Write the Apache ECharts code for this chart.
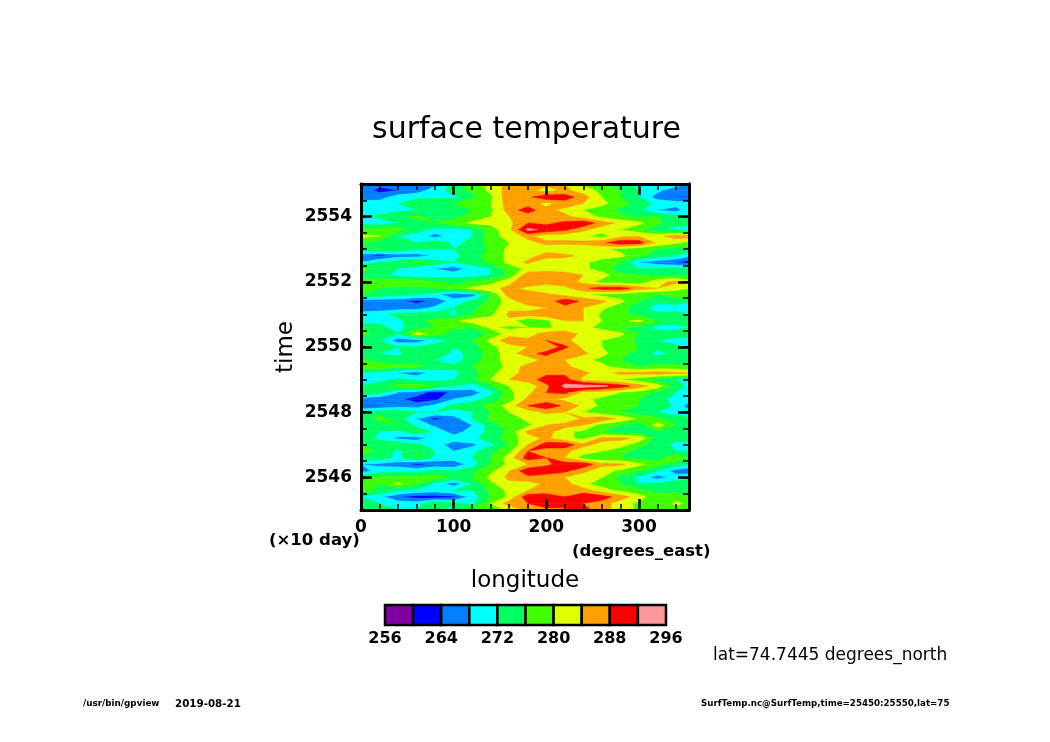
<!DOCTYPE html>
<html><head><meta charset="utf-8">
<style>html,body{margin:0;padding:0;background:#fff}#c{width:1050px;height:742px}</style>
<script src="https://cdn.jsdelivr.net/npm/echarts@6/dist/echarts.min.js"></script>
</head><body><div id="c"></div>
<script>
const lons = [0,20,40,60,80,100,120,140,160,180,200,220,240,260,280,300,320,340,354];
const timeTop = 2555, timeStep = 0.2;
const tempRows = [
[269,265,264,264,267,273,278,281,286,286,285,284,279,277,274,270,270,270,268],
[266,263,264,266,270,274,277,281,286,286,282,285,282,279,276,272,269,265,264],
[267,266,270,271,271,271,275,279,287,287,291,290,286,280,276,272,266,264,264],
[269,270,272,275,276,276,279,280,286,286,283,286,284,281,278,274,271,270,270],
[270,270,271,272,272,273,276,279,286,290,285,283,280,278,275,273,268,266,271],
[271,273,275,277,274,275,277,280,284,286,286,285,282,279,277,275,276,274,272],
[271,270,272,274,276,278,281,281,283,288,287,289,291,286,283,281,277,273,273],
[276,278,278,273,271,270,272,278,283,293,291,289,285,282,280,277,273,271,271],
[281,280,272,271,266,271,272,278,282,285,282,282,281,278,283,284,283,286,286],
[276,274,273,272,275,271,273,278,280,283,285,285,285,287,291,290,283,281,279],
[274,276,275,272,272,272,272,277,281,282,282,281,282,281,279,277,276,274,274],
[266,263,266,266,269,271,274,278,281,282,286,285,283,282,281,277,274,272,269],
[268,272,274,277,274,272,274,277,281,285,281,282,281,278,276,268,266,264,262],
[278,274,272,270,268,266,270,272,278,281,282,281,281,278,274,272,272,273,274],
[274,273,271,270,270,270,271,272,277,287,287,287,284,282,277,276,275,275,274],
[278,278,279,278,276,275,276,278,283,287,286,286,283,278,278,277,283,285,282],
[276,276,275,275,276,277,281,283,285,283,281,283,287,290,290,286,284,281,280],
[276,274,273,272,270,265,266,276,286,286,285,283,281,279,278,276,276,278,279],
[265,265,265,263,265,270,273,277,282,287,285,291,287,285,281,276,273,273,273],
[265,265,266,266,269,272,275,278,283,282,284,286,284,281,277,274,270,271,269],
[270,271,273,274,274,271,276,279,285,286,287,288,284,279,277,275,273,273,272],
[270,271,271,275,277,279,282,282,283,276,279,284,284,280,279,281,276,274,273],
[276,273,271,274,276,277,276,281,279,280,279,282,281,279,276,275,270,270,272],
[277,275,272,282,278,274,272,277,282,282,286,286,283,282,281,276,275,275,274],
[272,272,266,266,270,273,276,281,287,285,288,285,282,280,278,275,272,270,270],
[276,274,272,272,274,272,274,279,282,284,286,289,283,280,278,276,273,273,272],
[274,272,271,276,275,271,273,278,282,287,289,285,285,281,278,274,271,273,273],
[276,275,274,274,272,270,274,278,282,281,286,284,281,279,276,275,274,274,274],
[278,278,277,277,274,273,276,278,281,286,287,285,282,281,278,276,277,277,276],
[272,271,268,266,270,271,274,279,282,286,287,287,285,282,285,285,286,285,284],
[267,270,273,271,271,272,275,280,284,286,290,290,283,281,280,278,274,272,271],
[273,275,277,278,276,272,270,275,280,281,287,293,294,293,290,286,282,274,271],
[276,273,268,266,262,265,266,271,279,283,288,289,283,282,280,278,275,272,270],
[265,265,265,262,263,268,270,274,278,285,285,283,281,279,277,276,274,270,270],
[264,264,266,266,269,273,275,277,282,288,291,287,283,279,277,276,275,271,266],
[272,275,275,272,272,271,272,276,280,282,285,284,280,277,276,274,272,270,269],
[274,277,274,268,263,266,272,277,278,281,281,280,285,287,283,279,277,274,273],
[272,274,276,271,267,267,268,274,278,279,284,286,284,278,276,274,282,276,273],
[276,272,271,275,271,266,270,273,277,285,286,281,279,276,274,274,275,274,274],
[274,271,267,266,270,270,271,274,278,282,285,281,279,285,285,283,274,273,273],
[276,275,275,273,270,266,267,271,276,284,290,291,285,283,282,277,274,271,271],
[278,275,271,276,272,268,271,275,279,288,286,285,282,280,277,275,274,272,272],
[274,274,271,276,271,270,272,276,282,290,288,284,278,277,276,275,275,279,276],
[268,267,266,263,265,265,270,276,281,284,287,290,291,285,285,281,277,274,272],
[266,270,271,271,273,272,275,279,284,291,291,289,285,282,279,276,272,266,265],
[275,277,277,277,278,275,276,281,285,287,285,284,282,280,275,271,266,270,271],
[276,276,281,276,271,266,272,279,283,282,285,286,281,278,276,272,273,274,274],
[277,275,272,271,270,272,272,277,281,284,286,287,286,282,279,277,275,275,274],
[272,269,265,262,262,263,270,276,281,291,290,288,291,290,286,282,277,278,276],
[272,272,270,270,276,273,271,280,286,288,292,290,288,286,282,279,277,281,279],
[273,273,272,272,272,271,276,278,281,285,286,287,290,285,283,279,278,278,277]
];
const levels = [256,260,264,268,272,276,280,284,288,292,296];
const bandColors = ['#8000a0','#0000ff','#0080ff','#00ffff','#00ff60','#40ff00','#e0ff00','#ffa000','#ff0000','#ff9999'];
const yLabels = [2546,2548,2550,2552,2554];
const legendLabels = [256,264,272,280,288,296];
const FONT = 'DejaVu Sans';

const cells = [];
for (let r = 0; r < tempRows.length - 1; r++) {
  for (let c = 0; c < lons.length - 1; c++) {
    const t0 = timeTop - timeStep * r, t1 = timeTop - timeStep * (r + 1);
    cells.push([lons[c], t1, lons[c + 1], t0, tempRows[r + 1][c], tempRows[r + 1][c + 1], tempRows[r][c + 1], tempRows[r][c]]);
  }
}
function clip(poly, lv, keepAbove) {
  const out = [];
  for (let i = 0; i < poly.length; i++) {
    const a = poly[i], b = poly[(i + 1) % poly.length];
    const ain = keepAbove ? a[2] >= lv : a[2] <= lv;
    const bin = keepAbove ? b[2] >= lv : b[2] <= lv;
    if (ain) out.push(a);
    if (ain !== bin) {
      const f = (lv - a[2]) / (b[2] - a[2]);
      out.push([a[0] + f * (b[0] - a[0]), a[1] + f * (b[1] - a[1]), lv]);
    }
  }
  return out;
}
function renderCell(params, api) {
  const x0 = api.value(0), y0 = api.value(1), x1 = api.value(2), y1 = api.value(3);
  const p = [[x0, y0, 4], [x1, y0, 5], [x1, y1, 6], [x0, y1, 7]].map(d => {
    const q = api.coord([d[0], d[1]]);
    return [q[0], q[1], api.value(d[2])];
  });
  const children = [];
  for (let k = 0; k < bandColors.length; k++) {
    let poly = clip(p, levels[k], true);
    if (poly.length) poly = clip(poly, levels[k + 1], false);
    if (poly.length > 2) {
      children.push({type: 'polygon', silent: true,
        shape: {points: poly.map(v => [v[0], v[1]])},
        style: {fill: bandColors[k], stroke: bandColors[k], lineWidth: 0.5}});
    }
  }
  return {type: 'group', children};
}
const legendCells = bandColors.map((col, i) => [levels[i], levels[i + 1], i]);
function renderLegend(params, api) {
  const a = api.coord([api.value(0), 1]), b = api.coord([api.value(1), 0]);
  return {type: 'rect', shape: {x: a[0], y: a[1], width: b[0] - a[0], height: b[1] - a[1]},
    style: {fill: bandColors[api.value(2)], stroke: '#000', lineWidth: 2.5}};
}
const line = {show: true, onZero: false, lineStyle: {color: '#000', width: 3}};
const xBase = {type: 'value', gridIndex: 0, min: 0, max: 354, interval: 100, z: 6, splitLine: {show: false},
  axisLine: line,
  axisTick: {show: true, inside: true, length: 11, lineStyle: {color: '#000', width: 2.5}},
  minorTick: {show: true, splitNumber: 5, length: 6, lineStyle: {color: '#000', width: 1.5}},
  minorSplitLine: {show: false}};
const yBase = {type: 'value', gridIndex: 0, min: 2545, max: 2555, z: 6, splitLine: {show: false},
  axisLine: line,
  axisTick: {show: true, inside: true, length: 11, customValues: yLabels, lineStyle: {color: '#000', width: 2.5}}};
const yMinor = {type: 'value', gridIndex: 0, min: 2545, max: 2555, interval: 0.5, z: 6, splitLine: {show: false},
  axisLine: line, axisLabel: {show: false},
  axisTick: {show: true, inside: true, length: 6, lineStyle: {color: '#000', width: 1.5}}};
const option = {
  animation: false,
  backgroundColor: '#fff',
  textStyle: {fontFamily: FONT},
  grid: [
    {left: 361, top: 184, width: 328, height: 326},
    {left: 385, top: 605, width: 281, height: 20}
  ],
  xAxis: [
    Object.assign({}, xBase, {position: 'bottom', name: 'longitude', nameLocation: 'middle', nameGap: 60,
      nameTextStyle: {fontFamily: FONT, fontSize: 23, color: '#000'},
      axisLabel: {show: true, margin: 9, fontFamily: FONT, fontWeight: 'bold', fontSize: 17, color: '#000', showMaxLabel: false}}),
    Object.assign({}, xBase, {position: 'top', axisLabel: {show: false}}),
    {type: 'value', gridIndex: 1, min: 256, max: 296, interval: 8, position: 'bottom', z: 6,
      axisLine: {show: false}, axisTick: {show: false}, splitLine: {show: false},
      axisLabel: {show: true, margin: 6, fontFamily: FONT, fontWeight: 'bold', fontSize: 16, color: '#000', customValues: legendLabels}}
  ],
  yAxis: [
    Object.assign({}, yBase, {position: 'left', name: 'time', nameLocation: 'middle', nameGap: 63, nameRotate: 90,
      nameTextStyle: {fontFamily: FONT, fontSize: 23, color: '#000'},
      axisLabel: {show: true, margin: 9, fontFamily: FONT, fontWeight: 'bold', fontSize: 17, color: '#000', customValues: yLabels,
        formatter: v => String(v)}}),
    Object.assign({}, yBase, {position: 'right', axisLabel: {show: false}}),
    Object.assign({}, yMinor, {position: 'left'}),
    Object.assign({}, yMinor, {position: 'right'}),
    {type: 'value', gridIndex: 1, min: 0, max: 1, show: false}
  ],
  title: [
    {text: 'surface temperature', left: 367, top: 110,
      textStyle: {fontFamily: FONT, fontWeight: 'normal', fontSize: 30, color: '#000'}}
  ],
  graphic: [
    {type: 'text', left: 269, top: 532, style: {text: '(×10 day)', fontFamily: FONT, fontWeight: 'bold', fontSize: 16.5, fill: '#000'}},
    {type: 'text', left: 572, top: 543, style: {text: '(degrees_east)', fontFamily: FONT, fontWeight: 'bold', fontSize: 16.5, fill: '#000'}},
    {type: 'text', left: 713, top: 647, style: {text: 'lat=74.7445 degrees_north', fontFamily: FONT, fontSize: 17, fill: '#000'}},
    {type: 'text', left: 83, top: 699, style: {text: '/usr/bin/gpview', fontFamily: FONT, fontWeight: 'bold', fontSize: 8.8, fill: '#000'}},
    {type: 'text', left: 175, top: 699, style: {text: '2019-08-21', fontFamily: FONT, fontWeight: 'bold', fontSize: 10.3, fill: '#000'}},
    {type: 'text', left: 701, top: 699, style: {text: 'SurfTemp.nc@SurfTemp,time=25450:25550,lat=75', fontFamily: FONT, fontWeight: 'bold', fontSize: 8.7, fill: '#000'}}
  ],
  series: [
    {type: 'custom', coordinateSystem: 'cartesian2d', xAxisIndex: 0, yAxisIndex: 0, clip: true, silent: true,
      renderItem: renderCell, encode: {x: [0, 2], y: [1, 3]}, data: cells, z: 2, progressive: 0},
    {type: 'custom', coordinateSystem: 'cartesian2d', xAxisIndex: 2, yAxisIndex: 4, silent: true,
      renderItem: renderLegend, encode: {x: [0, 1]}, data: legendCells, z: 2}
  ]
};
echarts.init(document.getElementById('c'), null, {renderer: 'canvas'}).setOption(option);
</script></body></html>
